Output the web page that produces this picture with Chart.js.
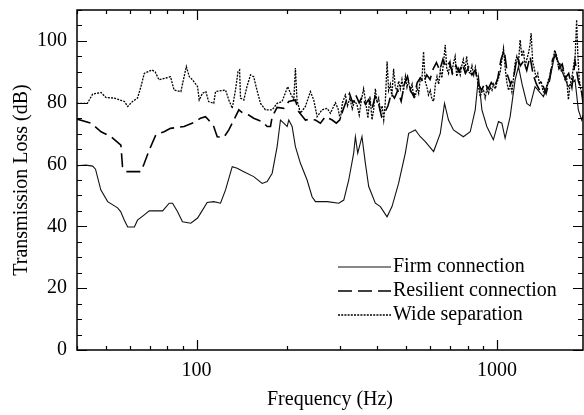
<!DOCTYPE html>
<html>
<head>
<meta charset="utf-8">
<script src="https://cdn.jsdelivr.net/npm/chart.js@4.4.0/dist/chart.umd.min.js"></script>
<style>
  html, body { margin: 0; padding: 0; background: #fff; }
</style>
</head>
<body>
<canvas id="chart" width="584" height="415"></canvas>
<script>
// values
const seriesNames = ["Firm connection", "Resilient connection", "Wide separation"];

const firmFreq = [40, 42.8, 45.1, 46.1, 48, 50.6, 54.6, 55.9, 57.5, 59,
  62.1, 63.6, 67, 69.6, 77.1, 81.1, 83.2, 86.4, 89.8, 95.7,
  100.8, 103.1, 108.5, 114.1, 120.2, 124.9, 131.5, 136.6, 143.7, 155,
  165.4, 171.9, 178.6, 185.5, 190.3, 195.2, 200.3, 202.8, 208.1, 213.4,
  221.8, 233.4, 242.5, 248.8, 272.2, 297.6, 309.2, 321.2, 333.6, 338,
  344.1, 355.5, 364.9, 374.3, 393.9, 409.3, 430.8, 447.5, 470.6, 495.6,
  508.5, 535, 555.9, 577.6, 615.6, 647.9, 669.4, 690, 716.8, 773.1,
  815.2, 847, 868.7, 891.5, 925.6, 973.4, 1012, 1039, 1065, 1107,
  1150, 1180, 1213, 1258, 1290, 1340, 1429, 1503, 1562, 1623,
  1728, 1820, 1867, 1916, 1935];
const firmLoss = [59.6, 59.8, 59.5, 58.5, 51.8, 48, 46, 44.8, 42, 39.8,
  39.8, 42, 43.7, 45, 45, 47.5, 47.5, 44.8, 41.5, 41,
  42.7, 44.2, 47.7, 48, 47.5, 51.8, 59.3, 58.8, 57.7, 56.1,
  53.9, 54.5, 57.2, 65.8, 74.4, 73.4, 72.3, 74.4, 72.3, 65.8,
  60.4, 55, 49.6, 48, 48, 47.5, 48.5, 55, 63.7, 69,
  63.7, 69, 60.4, 52.9, 47.5, 46.4, 43.1, 46.4, 53.9, 63.7,
  70.1, 71.2, 69, 67.4, 64.2, 70.1, 79.8, 74.4, 71.2, 69,
  70.6, 77.7, 88.4, 77.7, 72.3, 68, 73.9, 73.4, 68.5, 75.5,
  87.4, 91.7, 86, 79.8, 79, 85.2, 82, 88, 96, 91.7,
  85.2, 87.4, 77.7, 74.4, 76];

const resilientFreq = [40, 44.5, 48.1, 51.9, 56.0, 56.7, 58.2, 65.3, 67.0, 69.6,
  73.2, 78.0, 81.9, 90.9, 99.5, 103.1, 107.1, 109.7, 114.1, 117.2,
  123.3, 128.1, 133.1, 138.3, 141.9, 149.2, 155.0, 165.4, 171.9, 176.3,
  178.6, 185.5, 195.2, 202.8, 213.4, 218.8, 230.4, 239.4, 248.8, 258.5,
  268.6, 282.9, 292,
  300, 307, 315, 323, 331, 339, 348, 356, 365, 374,
  384, 393, 403, 413, 424, 434, 445, 456, 468, 480,
  492, 504, 516, 529, 543, 556, 570, 584, 599, 614,
  629, 645, 661, 678, 695, 712, 730, 748, 767, 786,
  806, 826, 847, 868, 890, 912, 935, 958, 982, 1007,
  1032, 1058, 1084, 1111, 1139, 1168, 1197, 1227, 1257, 1289,
  1321, 1354, 1388, 1423, 1458, 1495, 1532, 1571, 1610, 1650,
  1691, 1734, 1777, 1821, 1867, 1913, 1935];
const resilientLoss = [74.7, 73.4, 70.6, 69, 66.3, 59.3, 57.7, 57.7, 60.4, 64.7,
  69.6, 70.6, 71.7, 72.3, 73.9, 75, 75.5, 74.4, 72.3, 69,
  68.8, 71.2, 74.4, 77.7, 76.8, 76, 75, 73.9, 72.3, 72.3,
  75.5, 78.5, 78.2, 80.4, 80.9, 77.1, 74.4, 74.7, 74.4, 73.4,
  75.5, 74.4, 73.4,
  74.5, 77.5, 80.5, 83, 80, 82.5, 80, 82, 79.5, 81,
  78, 82, 80, 75.5, 77, 79, 83, 81.5, 84, 80.5,
  86, 88.5, 84, 82, 86.5, 88, 86.5, 89, 87.5, 91,
  93, 90.5, 94, 91.5, 93, 89.5, 92, 90, 92.5, 89.5,
  91.5, 89, 90.5, 86, 84, 86.5, 84.5, 86.5, 85, 88,
  94, 97, 89, 86, 88.5, 95, 92, 93.5, 90.5, 95,
  89, 86, 84, 85.5, 83, 87, 94, 95.5, 91, 92.5,
  88, 89.5, 85, 93.5, 87, 84, 80];

const wideFreq = [40, 43.3, 45.1, 48.1, 49.9, 53.2, 57.5, 59.0, 61.2, 63.6,
  65.3, 67.0, 71.0, 72.8, 75.0, 79.1, 81.9, 84.2, 88.7, 90.9,
  92.5, 94.6, 97.0, 100.8, 102.1, 104.7, 107.4, 109.7, 114.1, 115.7,
  124.9, 128.1, 131.5, 134.8, 137.4, 139.1, 140.1, 143.7, 147.2, 151.2,
  155.0, 158.9, 163.3, 169.6, 178.6, 185.5, 192.7, 201.2, 205.4, 210.8,
  213.4, 216.0, 221.8, 230.4, 239.4, 245.6, 252.1, 261.7, 272.2, 279.1,
  290, 296, 301, 306, 313, 318, 324, 330, 336, 342,
  348, 354, 360, 366, 372, 378, 384, 389, 394, 399,
  404, 410, 415, 420, 425, 431, 436, 442, 447, 453,
  459, 465, 471, 477, 483, 489, 496, 502, 508, 515,
  522, 529, 535, 542, 549, 556, 563, 570, 577, 585,
  592, 600, 608, 616, 624, 632, 640, 648, 656, 664,
  673, 681, 690, 699, 708, 717, 726, 735, 745, 755,
  764, 773, 783, 793, 804, 815, 826, 837, 848, 858,
  869, 880, 891, 903, 914, 926, 938, 950, 963, 975,
  988, 1000, 1013, 1026, 1039, 1052, 1066, 1080, 1094, 1108,
  1122, 1136, 1150, 1165, 1180, 1195, 1211, 1226, 1241, 1257,
  1274, 1290, 1300, 1316, 1333, 1350, 1368, 1386, 1404, 1422,
  1441, 1460, 1479, 1498, 1518, 1538, 1558, 1578, 1599, 1620,
  1641, 1663, 1685, 1707, 1730, 1753, 1776, 1799, 1822, 1843,
  1861, 1880, 1905, 1935];
const wideLoss = [79.8, 79.8, 82.8, 83.3, 81.7, 81.5, 80.4, 78.8, 80.4, 81.5,
  85.2, 89.5, 90.6, 90, 87.4, 88, 88.4, 84.1, 83.6, 88.4,
  91.7, 88.4, 87.4, 85.2, 80.9, 83.1, 83.6, 80.4, 79.8, 83.6,
  84.1, 80.9, 78.2, 84.1, 90, 90.6, 81.5, 80.9, 85.2, 89,
  88.4, 84.1, 79.8, 77.7, 77.7, 79.8, 80.4, 85.2, 83.1, 80.9,
  91.2, 80.9, 76.6, 78.8, 83.6, 80.9, 75.5, 77.7, 78.2, 76.6,
  80, 78, 74.5, 80, 82.5, 79, 81.5, 78, 80.5, 79.5,
  76, 81, 84.5, 80, 75, 82, 74.5, 78, 84.5, 80,
  81.5, 77, 79, 74.5, 80, 93.3, 84, 86, 82, 91,
  85, 84, 87, 84.5, 87.5, 84, 88.5, 85, 87, 84,
  86, 81.5, 82, 85, 83, 88, 87.5, 96.5, 87, 85,
  82.5, 84, 81, 80.5, 86, 88.5, 86, 90.5, 88, 93,
  98.7, 91, 89.5, 93, 90, 92.8, 95, 88.5, 91, 89,
  92, 94, 90.5, 95, 90, 89.5, 92, 89, 91.5, 88.5,
  85, 82, 83.5, 84, 81.5, 84.5, 83, 85, 84, 86,
  84.5, 86.5, 88, 90, 94, 97.6, 91, 86.5, 84, 86,
  83.5, 88, 92.8, 95, 93, 100.3, 95, 97, 91.7, 94,
  96, 99, 102.5, 93, 91, 88, 89.5, 86, 87, 84,
  83, 85, 87, 88.5, 91, 94, 97, 95.5, 92, 93,
  90, 91, 87.5, 88, 81, 86, 88, 91.7, 95, 106.8,
  95, 87.4, 84, 82];

const xTickLabels = [100, 1000];
const yTickLabels = [0, 20, 40, 60, 80, 100];

const FONT = '"Liberation Serif", "Times New Roman", serif';

function points(xs, ys) {
  return xs.map((x, i) => ({x: x, y: ys[i]}));
}

// box round the plot with inward ticks on all four sides
const framePlugin = {
  id: "frame",
  afterDraw(chart) {
    const {ctx, chartArea: a, scales: {x, y}} = chart;
    ctx.save();
    ctx.strokeStyle = "#000";
    ctx.lineWidth = 1.5;
    ctx.strokeRect(a.left, a.top, a.right - a.left, a.bottom - a.top);
    ctx.lineWidth = 1.2;
    ctx.beginPath();
    // x ticks: 2..9 in each decade short, decades long
    for (let d = 10; d <= 1000; d *= 10) {
      for (let m = 1; m <= 9; m++) {
        const v = m * d;
        if (v < x.min || v > x.max) continue;
        const px = Math.round(x.getPixelForValue(v)) + 0.5;
        const len = m === 1 ? 10 : 4;
        ctx.moveTo(px, a.bottom); ctx.lineTo(px, a.bottom - len);
        ctx.moveTo(px, a.top); ctx.lineTo(px, a.top + len);
      }
    }
    // y ticks every 5, labelled ones long
    for (let v = y.min; v <= y.max; v += 5) {
      const py = Math.round(y.getPixelForValue(v)) + 0.5;
      const len = yTickLabels.includes(v) ? 10 : 5;
      ctx.moveTo(a.left, py); ctx.lineTo(a.left + len, py);
      ctx.moveTo(a.right, py); ctx.lineTo(a.right - len, py);
    }
    ctx.stroke();
    ctx.restore();
  }
};

// legend inside the plot, lower right
const legendPlugin = {
  id: "innerLegend",
  afterDraw(chart) {
    const {ctx, chartArea: a} = chart;
    ctx.save();
    ctx.font = "20px " + FONT;
    ctx.textBaseline = "middle";
    ctx.fillStyle = "#000";
    chart.data.datasets.forEach((ds, i) => {
      const yy = 267 + i * 24;
      const x0 = a.right - 245;
      ctx.strokeStyle = ds.borderColor;
      ctx.lineWidth = ds.borderWidth;
      ctx.setLineDash(ds.borderDash || []);
      ctx.beginPath();
      ctx.moveTo(x0, yy); ctx.lineTo(x0 + 53, yy);
      ctx.stroke();
      ctx.fillText(ds.label, x0 + 55, yy);
    });
    ctx.restore();
  }
};

new Chart(document.getElementById("chart"), {
  type: "line",
  data: {
    datasets: [
      {label: seriesNames[0], data: points(firmFreq, firmLoss),
       borderColor: "#111", borderWidth: 1.1, borderDash: []},
      {label: seriesNames[1], data: points(resilientFreq, resilientLoss),
       borderColor: "#000", borderWidth: 1.6, borderDash: [14, 6]},
      {label: seriesNames[2], data: points(wideFreq, wideLoss),
       borderColor: "#000", borderWidth: 1.3, borderDash: [2, 1.2]}
    ]
  },
  options: {
    responsive: false,
    animation: false,
    layout: {padding: {top: 10, right: 1, left: 0, bottom: 0}},
    elements: {point: {radius: 0}, line: {tension: 0}},
    plugins: {legend: {display: false}, tooltip: {enabled: false}},
    scales: {
      x: {
        type: "logarithmic",
        min: 40, max: 1935,
        afterFit: s => { s.height = 65; s.paddingLeft = 0; s.paddingRight = 0; },
        afterBuildTicks: s => { s.ticks = xTickLabels.map(v => ({value: v})); },
        grid: {display: false, drawTicks: false},
        border: {display: false},
        ticks: {color: "#000", font: {family: FONT, size: 20}, padding: 9,
                maxRotation: 0, autoSkip: false, callback: v => String(v)},
        title: {display: true, text: "Frequency (Hz)", color: "#000",
                font: {family: FONT, size: 20}, padding: {top: 0, bottom: 3}}
      },
      y: {
        min: 0, max: 110,
        afterFit: s => { s.width = 77; s.paddingTop = 0; s.paddingBottom = 0; },
        afterBuildTicks: s => { s.ticks = yTickLabels.map(v => ({value: v})); },
        grid: {display: false, drawTicks: false},
        border: {display: false},
        ticks: {color: "#000", font: {family: FONT, size: 20}, padding: 10},
        title: {display: true, text: "Transmission Loss (dB)", color: "#000",
                font: {family: FONT, size: 20}, padding: {top: 10, bottom: 0}}
      }
    }
  },
  plugins: [framePlugin, legendPlugin]
});
</script>
</body>
</html>
